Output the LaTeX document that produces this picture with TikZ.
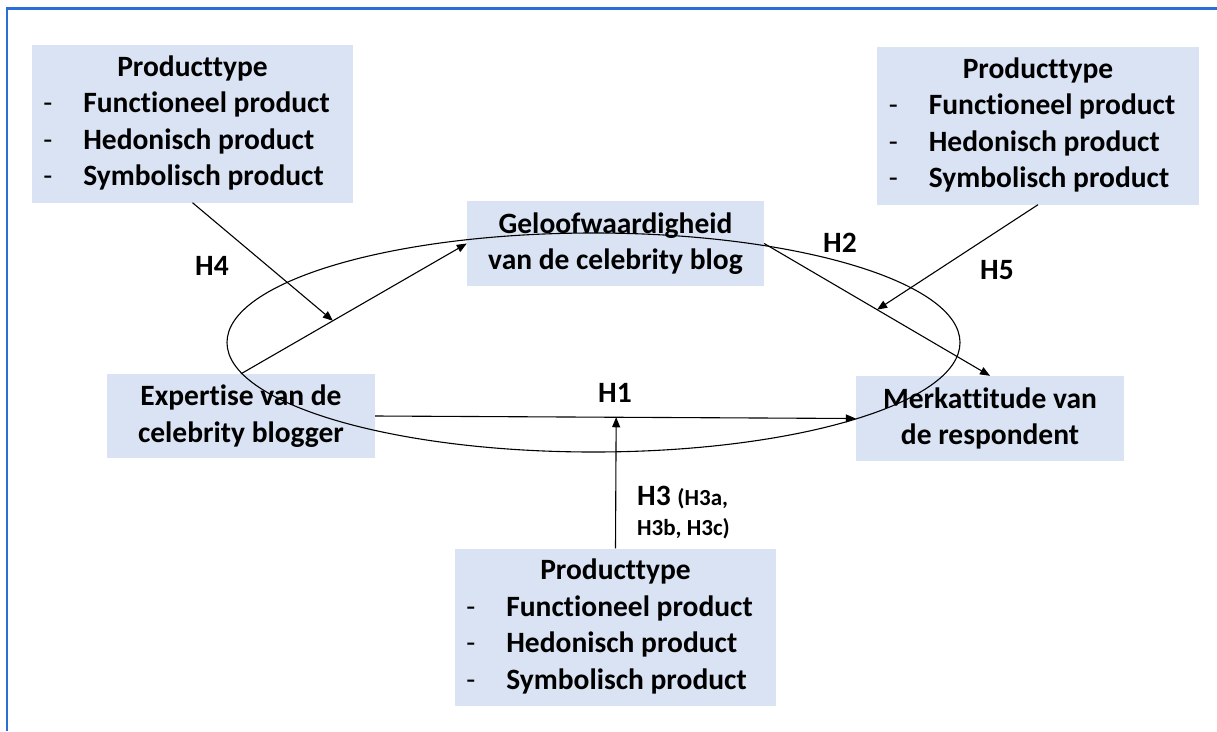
\documentclass[tikz,border=0pt]{standalone}
\usepackage{fontspec}
\setmainfont{Carlito}[Ligatures=NoCommon]
\usetikzlibrary{arrows.meta,calc}
\definecolor{boxfill}{HTML}{DAE3F3}
\definecolor{frameblue}{HTML}{2A6FD6}
% list of product types used in the three moderator boxes
\newcommand{\ptdash}{{\mdseries -}}
\newcommand{\ptlist}{%
  \begin{tabular}{@{}l@{\hspace{31pt}}l@{\hspace{12pt}}}
    \multicolumn{2}{@{}c@{}}{Producttype}\\
    \ptdash&Functioneel product\\
    \ptdash&Hedonisch product\\
    \ptdash&Symbolisch product
  \end{tabular}}
\newcommand{\smallh}{\fontsize{23}{30}\selectfont}
\begin{document}
\begin{tikzpicture}[x=1pt,y=-1pt,
  every node/.style={font=\bfseries\fontsize{29.5}{36.5}\selectfont, inner sep=0pt},
  box/.style={fill=boxfill, draw=none, align=center},
  link/.style={line width=1.1pt},
  arr/.style={line width=1.1pt, -{Triangle[length=10pt,width=8pt]}}]
\useasboundingbox (0,0) rectangle (1217,731);
% frame
\draw[frameblue, line width=2.5pt] (7,731) -- (7,8.3) -- (1217,8.3);

% boxes
\node[box, minimum width=321, minimum height=158] (tl)   at (192.5,123.5) {\ptlist};
\node[box, minimum width=322, minimum height=158] (tr)   at (1038,125.5)  {\ptlist};
\node[box, minimum width=321, minimum height=157] (bot)  at (615.5,627)   {\ptlist};
\node[box, minimum width=297, minimum height=85]  (gel)  at (615.5,243.5) {Geloofwaardigheid\\van de celebrity blog};
\node[box, minimum width=268, minimum height=84]  (exp)  at (241,416)     {Expertise van de\\celebrity blogger};
\node[box, minimum width=268, minimum height=85]  (merk) at (990,418.5)   {Merkattitude van\\de respondent};

% ellipse around the model
\draw[link] (593.5,342.5) ellipse [x radius=366.5, y radius=109.5];

% paths
\draw[arr] (exp.north) -- coordinate[pos=0.407] (h4tip) (gel.west);
\draw[arr] (tl.south) -- (h4tip);
\draw[arr] (gel.east) -- coordinate[pos=0.5] (h5tip) (merk.north);
\draw[arr] (tr.south) -- (h5tip);
\draw[arr] (exp.east) -- (merk.west);
\draw[arr] (bot.north) -- ($(exp.east)!(bot.north)!(merk.west)$);

% hypothesis labels
\node (h1) at (615,393) {H1};
\node (h2) at (840,243) {H2};
\node (h4) at (212,266) {H4};
\node (h5) at (997,270) {H5};
\node[align=left, anchor=west, font=\bfseries\fontsize{29.5}{30}\selectfont] (h3) at (637,513)
  {H3 {\smallh(H3a,}\\{\smallh H3b, H3c)}};
\end{tikzpicture}
\end{document}
